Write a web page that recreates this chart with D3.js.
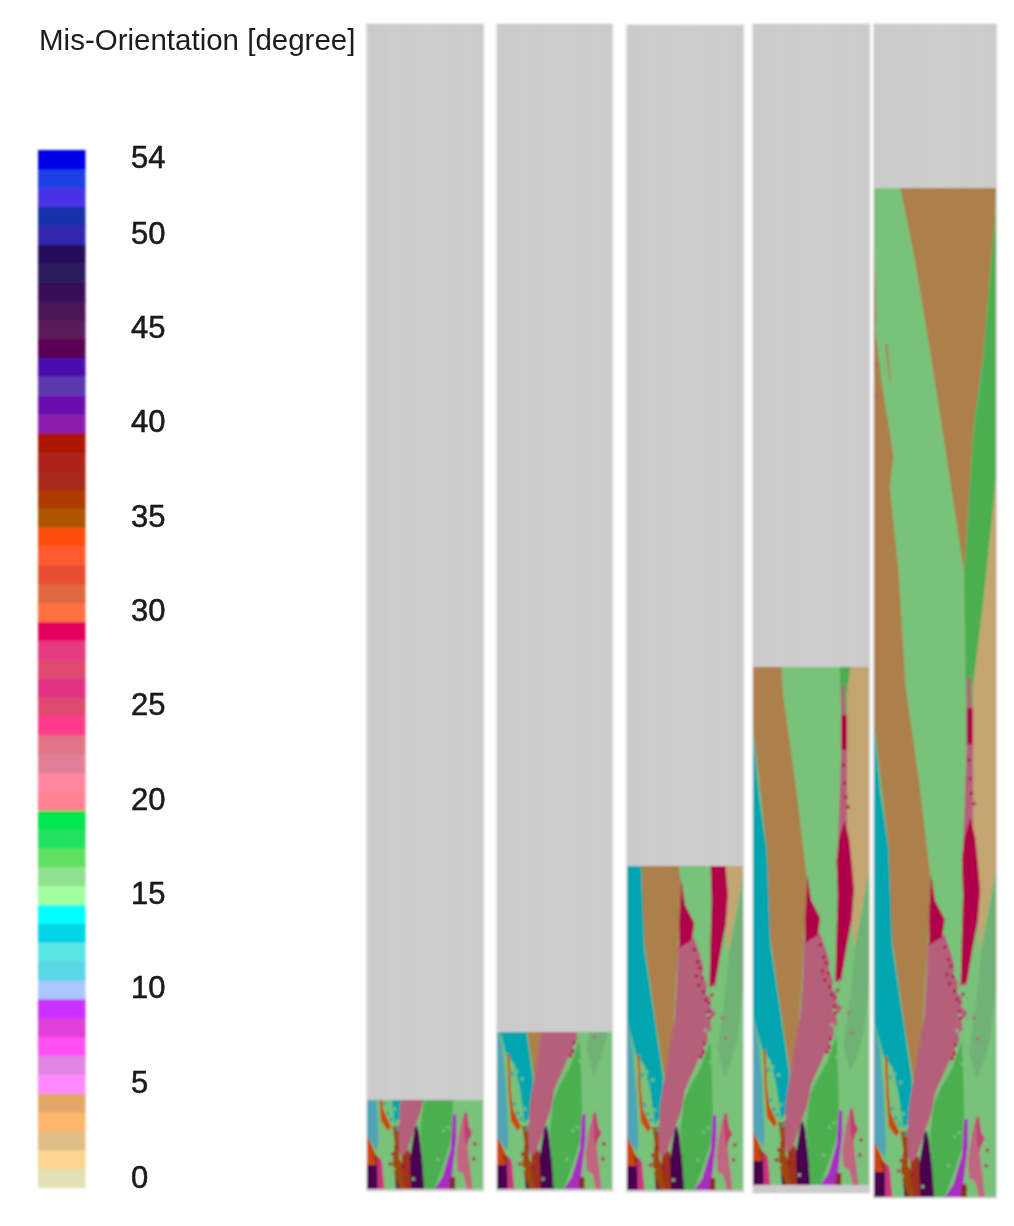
<!DOCTYPE html>
<html>
<head>
<meta charset="utf-8">
<script src="https://cdn.jsdelivr.net/npm/d3@7"></script>
<style>
  html, body { margin: 0; padding: 0; background: #fff; }
  svg { display: block; }
  text { font-family: "Liberation Sans", Arial, sans-serif; fill: #1c1c1c; }
</style>
</head>
<body>
<svg width="1014" height="1226"></svg>
<script>
// DATA
// colour of each mis-orientation degree, 0 to 54
const misColors = [
  "#e2e0b4", "#fcd591", "#e0bf85", "#ffb56a", "#e2a868",
  "#ff88ff", "#e085e0", "#ff4ff5", "#e040d8", "#cc33ff",
  "#a8c8ff", "#5ad6e6", "#5ae6e6", "#00d4e6", "#00ffff",
  "#a0ffa0", "#90e090", "#60e060", "#20e060", "#00e64d",
  "#ff8090", "#ff85a0", "#e08098", "#e07585", "#ff3a8c",
  "#e04a70", "#e03080", "#e04a70", "#e63a80", "#e6005c",
  "#ff7040", "#e0683f", "#e65030", "#ff5a33", "#ff4d0a",
  "#ad5500", "#ad3a00", "#a82a1a", "#ad2015", "#ad1400",
  "#8c1aad", "#6a10ad", "#5a38ad", "#4a0aad", "#5c0055",
  "#5c1f5c", "#4a1458", "#380a58", "#2c1f5c", "#240a5c",
  "#3228ad", "#1230a8", "#4a33e6", "#1a40e6", "#0000e6"
]
const misTicks = [0, 5, 10, 15, 20, 25, 30, 35, 40, 45, 50, 54]

// height of the solidification front in each panel
const frontHeights = [89, 157, 324, 518, 970]

// faint vertical banding of the liquid part, left to right
const liquidShades = ["#cacaca", "#cbcbcb", "#cccccc", "#cbcbcb", "#cccccc", "#cdcdcd", "#cccccc", "#cbcbcb", "#cccccc", "#cbcbcb"]

// grain outlines, [% of width, height above the base]
const grainBackground = [[0, 0], [100, 0], [100, 970], [0, 970]]
const grainBrownLeft = [[0, 917], [2, 846], [1, 834], [6.4, 783], [16, 712], [13, 683], [20, 603], [26, 490],
  [37, 399], [46.5, 305], [44, 243], [41, 187], [37, 122], [33, 106], [24.4, 171], [13, 262], [12, 334], [1, 448], [0, 455]]
const grainBrownTop = [[21.6, 970], [100, 970], [99, 939], [89.5, 808], [81, 731], [74, 599], [59, 715], [45, 820], [34, 898]]
const grainBrownStreak = [[9, 820], [11, 820], [14, 782], [13, 782]]
const grainGreenUpper = [[99, 939], [100, 946], [100, 693], [98, 667], [89.5, 571], [81, 490], [81, 470], [76, 470], [75, 500], [74, 599], [81, 731], [89.5, 808]]
const grainGreenStreak = [[90, 805], [91, 790], [83, 735], [82, 745]]
const grainTan = [[100, 693], [98, 667], [89.5, 571], [81, 490], [81, 355], [85, 320], [87, 295], [85, 263], [87, 236], [100, 315]]
const grainGreyGreen = [[100, 315], [96, 285], [88, 236], [84, 190], [78, 140], [84, 113], [90, 130], [95, 150], [100, 200]]
const grainTeal = [[0, 455], [5, 390], [12, 334], [15, 240], [23.6, 173], [31, 113], [32, 75], [24, 66], [20, 100], [15, 125], [8, 135], [0, 170]]
const grainGreyTeal = [[0, 170], [5, 140], [8, 100], [10, 50], [9, 38], [0, 52]]
const grainOrangeStreak = [[9, 135], [11, 135], [12, 100], [14, 80], [21, 62], [18, 58], [12, 68], [10, 100]]
const grainOrange = [[0, 53], [5, 42], [8, 33], [8, 22], [0, 22]]
const grainDarkRedLeft = [[5, 36], [12, 30], [12, 22], [8, 22]]
const grainPurpleLeft = [[0, 24], [9, 24], [10, 0], [0, 0]]
const grainMagentaLeft = [[9, 33], [13, 28], [15, 0], [9, 0]]
const grainBrownDark = [[22, 63], [27, 63], [28, 30], [33, 20], [38, 0], [26, 0], [22, 25], [24, 45]]
const grainRed = [[30, 32], [36, 40], [40, 25], [39, 0], [33, 0], [30, 15]]
const grainPurpleSmall = [[24, 14], [28, 0], [25, 0]]
const grainPurple = [[38, 0], [37, 30], [41, 60], [43, 64], [45, 55], [48, 25], [49.5, 0]]
const grainGreen = [[72, 150], [64, 123], [55, 105], [49, 89], [46, 60], [49.4, 0], [58, 0], [66, 25], [72, 47], [74, 80], [73, 120]]
const grainViolet = [[74, 75], [77, 75], [77, 50], [74, 20], [72, 0], [58, 0], [65, 12], [72, 40]]
const grainDarkRedBase = [[71, 0], [72, 12], [76, 12], [76, 0]]
const grainRose = [[44, 243], [50, 247], [58, 252], [63, 235], [66, 222], [65, 215], [69, 205], [68, 196], [72, 192], [71, 184], [77, 177],
  [72, 168], [73, 160], [69, 158], [70, 150], [66, 144], [67, 136], [62, 132], [60, 126], [50, 100], [47, 80], [42, 64], [37, 46], [31, 26],
  [26, 46], [29, 89], [32, 110], [41, 173], [43, 210]]
const grainRoseRight = [[76, 500], [79, 500], [81, 435], [81, 340], [73, 337], [76, 435]]
const grainRoseBase = [[77, 35], [80, 60], [84, 78], [87, 40], [91, 0], [86, 0], [83, 15], [78, 18]]
const grainCrimsonLeft = [[47, 310], [50, 285], [58, 267], [56, 250], [52, 247], [45, 242], [45, 270]]
const grainCrimsonRight = [[79, 365], [83, 345], [85, 322], [87, 295], [85, 265], [81, 240], [76, 205], [71, 203], [72, 250], [73, 290], [72, 325], [74, 345]]
const grainCrimsonSliver = [[76, 470], [81, 470], [81, 435], [76, 435]]
const grainCrimsonBase = [[84, 75], [86, 78], [88, 62], [91, 56], [88, 50], [86, 42], [84, 55]]

// speckles at the rough grain boundaries, [% of width, height above the base]
const specksCrimson = [[58, 240], [61, 228], [63, 222], [65, 212], [62, 205], [60, 214], [66, 198], [68, 190], [70, 178], [71, 172],
  [67, 146], [66, 138], [64, 133], [82, 378], [80, 388], [79, 402], [78, 420], [73, 195], [71, 187], [93, 45], [92, 30], [20, 25], [22, 35], [25, 42], [31, 22]]
const specksLightGreen = [[70, 175], [73, 170], [75, 160], [72, 150], [77, 195], [80, 180], [68, 160], [76, 128], [79, 118], [72, 128],
  [16, 100], [19, 88], [22, 110], [24, 80], [17, 118], [27, 68], [61, 30], [70, 62], [66, 58], [40, 10], [23, 20]]
const specksRose = [[42, 90], [40, 100], [44, 120], [38, 82], [36, 62], [47, 145], [50, 158], [82, 172], [85, 152], [75, 205], [2, 800], [3, 770]]
const specksTeal = [[15, 85], [18, 76], [13, 115], [21, 70], [26, 60]]

const grainLayers = [
  { points: grainBackground, color: "#79c27a" },
  { points: grainBrownLeft, color: "#ad7f4c" },
  { points: grainBrownTop, color: "#ad7f4c" },
  { points: grainBrownStreak, color: "#ad7f4c" },
  { points: grainGreenUpper, color: "#4caf50" },
  { points: grainGreenStreak, color: "#3cb85c" },
  { points: grainTan, color: "#c3a571" },
  { points: grainGreyGreen, color: "#6fb176" },
  { points: grainTeal, color: "#00a5b0" },
  { points: grainGreyTeal, color: "#4fa5b5" },
  { points: grainOrangeStreak, color: "#c8480f" },
  { points: grainOrange, color: "#c9440f" },
  { points: grainDarkRedLeft, color: "#9c2a1a" },
  { points: grainPurpleLeft, color: "#4a0050" },
  { points: grainMagentaLeft, color: "#c9347c" },
  { points: grainRose, color: "#b5607a" },
  { points: grainBrownDark, color: "#9c4a0f" },
  { points: grainRed, color: "#a0301c" },
  { points: grainPurpleSmall, color: "#4a0050" },
  { points: grainPurple, color: "#4a0050" },
  { points: grainGreen, color: "#4caf50" },
  { points: grainViolet, color: "#a82fc0" },
  { points: grainDarkRedBase, color: "#8c2a1a" },
  { points: grainRoseRight, color: "#b5607a" },
  { points: grainRoseBase, color: "#c0667f" },
  { points: grainCrimsonLeft, color: "#b00048" },
  { points: grainCrimsonRight, color: "#b00048" },
  { points: grainCrimsonSliver, color: "#b00048" },
  { points: grainCrimsonBase, color: "#c0406f" }
]
const speckLayers = [
  { points: specksCrimson, color: "#b00048" },
  { points: specksLightGreen, color: "#79c27a" },
  { points: specksRose, color: "#b5607a" },
  { points: specksTeal, color: "#00a5b0" }
]

// LAYOUT
const panels = [
  { left: 367, right: 483, top: 24, frontBase: 1189, bottom: 1191 },
  { left: 497, right: 612, top: 24, frontBase: 1189, bottom: 1191 },
  { left: 627, right: 743, top: 25, frontBase: 1190, bottom: 1192 },
  { left: 753, right: 869, top: 24, frontBase: 1185, bottom: 1193 },
  { left: 874, right: 996, top: 24, frontBase: 1197, bottom: 1198 }
]
const frontTops = [1100, 1032, 866, 667, 188]

// SETUP
const svg = d3.select("svg")

const defs = svg.append("defs")

defs.append("filter")
  .attr("id", "soft")
  .attr("x", "-5%").attr("y", "-5%").attr("width", "110%").attr("height", "110%")
  .append("feGaussianBlur")
  .attr("stdDeviation", 1)

defs.append("filter")
  .attr("id", "softText")
  .attr("x", "-5%").attr("y", "-5%").attr("width", "110%").attr("height", "110%")
  .append("feGaussianBlur")
  .attr("stdDeviation", 0.6)

// COLOUR BAR
const scaleMis = d3.scaleLinear()
  .domain([-0.5, 54.5])
  .range([1187.5, 150])

const bar = svg.append("g").attr("filter", "url(#soft)")

bar.selectAll("rect")
  .data(misColors)
  .enter()
  .append("rect")
  .attr("x", 38)
  .attr("width", 47.5)
  .attr("y", (d, i) => scaleMis(i + 0.5))
  .attr("height", (d, i) => scaleMis(i - 0.5) - scaleMis(i + 0.5) + 0.5)
  .attr("fill", d => d)

const axisMis = d3.axisRight(scaleMis)
  .tickValues(misTicks)
  .tickSize(0)
  .tickPadding(0)
  .tickFormat(d3.format("d"))

const axisGroup = svg.append("g")
  .attr("transform", "translate(131, 0)")
  .attr("filter", "url(#softText)")
  .call(axisMis)

axisGroup.select(".domain").remove()
axisGroup.selectAll("text")
  .attr("font-size", 31)
  .style("font-family", '"Liberation Sans", Arial, sans-serif')
  .attr("fill", "#111")
  .attr("stroke", "#111")
  .attr("stroke-width", 0.5)
  .attr("dy", d => d === 0 ? "0.32em" : "0.27em")

svg.append("text")
  .attr("x", 39)
  .attr("y", 50)
  .attr("font-size", 29.5)
  .attr("filter", "url(#softText)")
  .text("Mis-Orientation [degree]")

// PANELS
const outline = d3.line()

panels.forEach((panel, i) => {
  const scaleX = d3.scaleLinear()
    .domain([0, 100])
    .range([panel.left, panel.right])

  const scaleY = d3.scaleLinear()
    .domain([0, frontHeights[i]])
    .range([panel.frontBase, frontTops[i]])

  const scaleBand = d3.scaleBand()
    .domain(d3.range(liquidShades.length))
    .range([panel.left, panel.right])

  const group = svg.append("g")
    .attr("filter", "url(#soft)")

  // frame and the still liquid part above the front
  group.append("rect")
    .attr("x", panel.left - 1.5)
    .attr("y", panel.top - 1)
    .attr("width", panel.right - panel.left + 3)
    .attr("height", panel.bottom - panel.top + 2)
    .attr("fill", "#ececec")

  group.selectAll("rect.liquid")
    .data(liquidShades)
    .enter()
    .append("rect")
    .attr("class", "liquid")
    .attr("x", (d, j) => scaleBand(j))
    .attr("y", panel.top)
    .attr("width", scaleBand.bandwidth() + 0.5)
    .attr("height", panel.bottom - panel.top)
    .attr("fill", d => d)

  const clipId = `front-${i}`

  defs.append("clipPath")
    .attr("id", clipId)
    .append("rect")
    .attr("x", scaleX(0))
    .attr("y", scaleY(frontHeights[i]))
    .attr("width", scaleX(100) - scaleX(0))
    .attr("height", scaleY(0) - scaleY(frontHeights[i]))

  const solid = group.append("g")
    .attr("clip-path", `url(#${clipId})`)

  solid.selectAll("path")
    .data(grainLayers)
    .enter()
    .append("path")
    .attr("d", d => outline(d.points.map(p => [scaleX(p[0]), scaleY(p[1])])) + "Z")
    .attr("fill", d => d.color)

  speckLayers.forEach(layer => {
    solid.selectAll(null)
      .data(layer.points)
      .enter()
      .append("rect")
      .attr("x", d => scaleX(d[0]) - 1.5)
      .attr("y", d => scaleY(d[1]) - 1.5)
      .attr("width", 3)
      .attr("height", 3)
      .attr("fill", layer.color)
  })
})
</script>
</body>
</html>
